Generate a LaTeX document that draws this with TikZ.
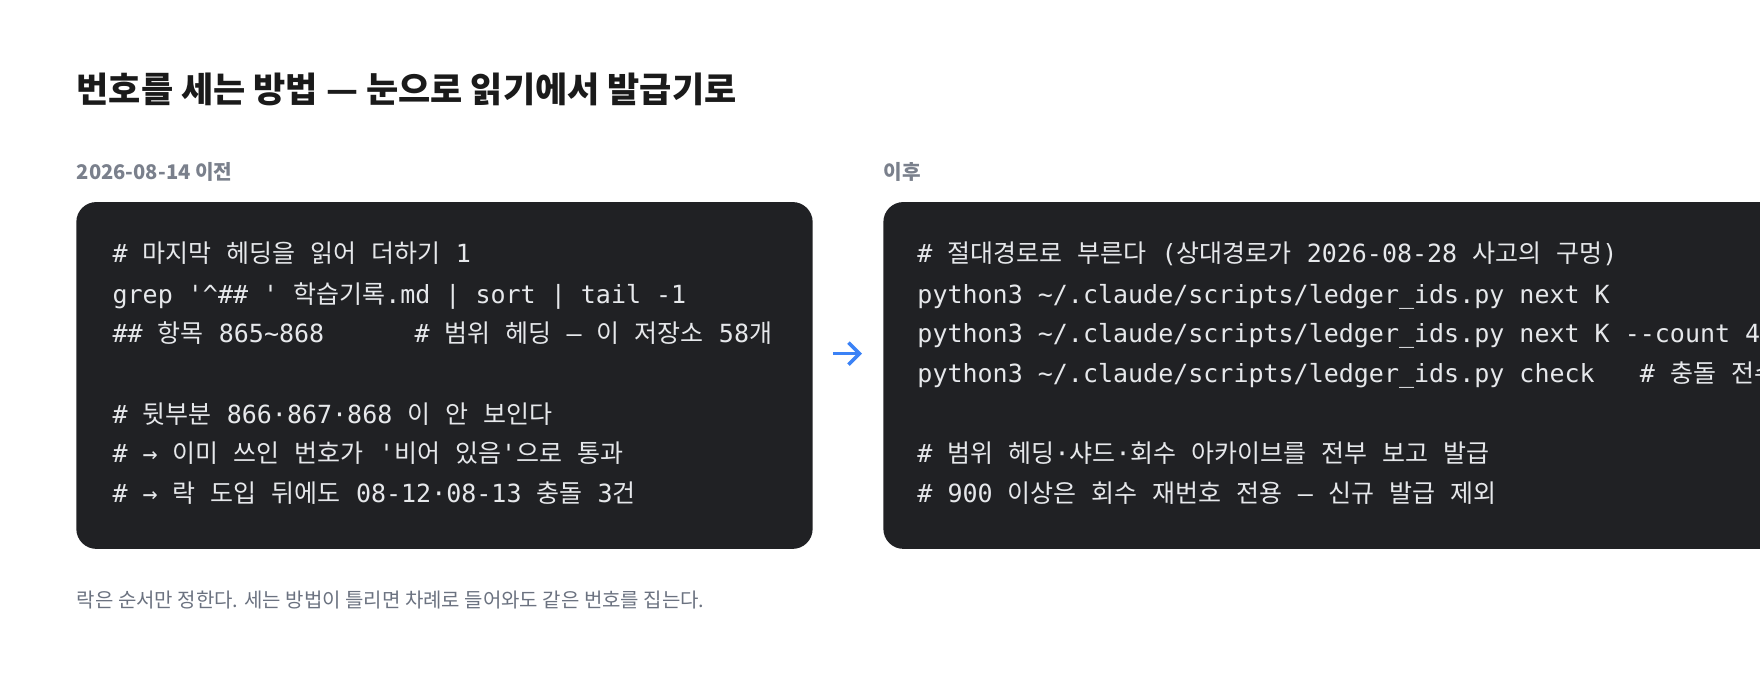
\documentclass[tikz,border=0pt]{standalone}
\usepackage{fontspec}
\usetikzlibrary{arrows.meta}
\setmainfont{Noto Sans CJK KR}
\setmonofont{DejaVu Sans Mono}
\newfontfamily\krmonofont{Noto Sans CJK KR}
\let\krsw\relax
\XeTeXinterchartokenstate=1
\newXeTeXintercharclass\krclass
\newcount\kcnt
\kcnt="AC00
\loop\ifnum\kcnt<"D7A4 \XeTeXcharclass\kcnt=\krclass \advance\kcnt by 1 \repeat
\XeTeXinterchartoks 0 \krclass = {\begingroup\krsw}
\XeTeXinterchartoks 4095 \krclass = {\begingroup\krsw}
\XeTeXinterchartoks \krclass 0 = {\endgroup}
\XeTeXinterchartoks \krclass 4095 = {\endgroup}
\definecolor{codebg}{HTML}{202124}
\definecolor{codefg}{HTML}{E6E8EB}
\definecolor{lab}{HTML}{7A808C}
\definecolor{foot}{HTML}{6B7280}
\definecolor{ttl}{HTML}{1A1A1A}
\definecolor{arr}{HTML}{3B82F6}
\begin{document}
\begin{tikzpicture}[x=0.5612pt,y=-0.5612pt,
  box/.style={fill=codebg,rounded corners=10pt},
  code/.style={anchor=base west,inner sep=0,text=codefg,font=\fontsize{12.5}{14}\ttfamily\let\krsw\krmonofont},
  lbl/.style={anchor=west,inner sep=0,text=lab,font=\fontsize{10.1}{12}\bfseries}]
\useasboundingbox (0,0) rectangle (1568,609.4);
\clip (0,0) rectangle (1568,609.4);
\node[anchor=west,inner sep=0,text=ttl,font=\fontsize{17.5}{20}\bfseries] (title) at (68,80) {번호를 세는 방법 — 눈으로 읽기에서 발급기로};
\node[lbl] (lb1) at (68,153) {2026-08-14 이전};
\node[lbl] (lb2) at (787,153) {이후};
\fill[box] (68,180) rectangle (724,489);
\fill[box] (787,180) rectangle (1650,489);
\node[code] (l1) at (100,234) {\# 마지막 헤딩을 읽어 더하기 1};
\node[code] (l2) at (100,270) {grep '\textasciicircum\#\#\ ' 학습기록.md | sort | tail -1};
\node[code] (l3) at (100,305) {\#\# 항목 865\textasciitilde868\ \ \ \ \ \ \# 범위 헤딩 – 이 저장소 58개};
\node[code] (l4) at (100,377) {\# 뒷부분 866·867·868 이 안 보인다};
\node[code] (l5) at (100,412) {\# → 이미 쓰인 번호가 '비어 있음'으로 통과};
\node[code] (l6) at (100,448) {\# → 락 도입 뒤에도 08-12·08-13 충돌 3건};
\node[code] (r1) at (817,234) {\# 절대경로로 부른다 (상대경로가 2026-08-28 사고의 구멍)};
\node[code] (r2) at (817,270) {python3 \textasciitilde/.claude/scripts/ledger\_ids.py next K};
\node[code] (r3) at (817,305) {python3 \textasciitilde/.claude/scripts/ledger\_ids.py next K --count 4};
\node[code] (r4) at (817,341) {python3 \textasciitilde/.claude/scripts/ledger\_ids.py check\ \ \ \# 충돌 전수 검사};
\node[code] (r5) at (817,412) {\# 범위 헤딩·샤드·회수 아카이브를 전부 보고 발급};
\node[code] (r6) at (817,448) {\# 900 이상은 회수 재번호 전용 – 신규 발급 제외};
\coordinate (a1) at (742,315);
\coordinate (a2) at (768,315);
\draw[arr,line width=1.8pt,-{Straight Barb[length=5.5pt,width=11pt]}] (a1) -- (a2);
\node[anchor=west,inner sep=0,text=foot,font=\fontsize{10.7}{12}] (ft) at (68,535) {락은 순서만 정한다. 세는 방법이 틀리면 차례로 들어와도 같은 번호를 집는다.};
\end{tikzpicture}
\end{document}
